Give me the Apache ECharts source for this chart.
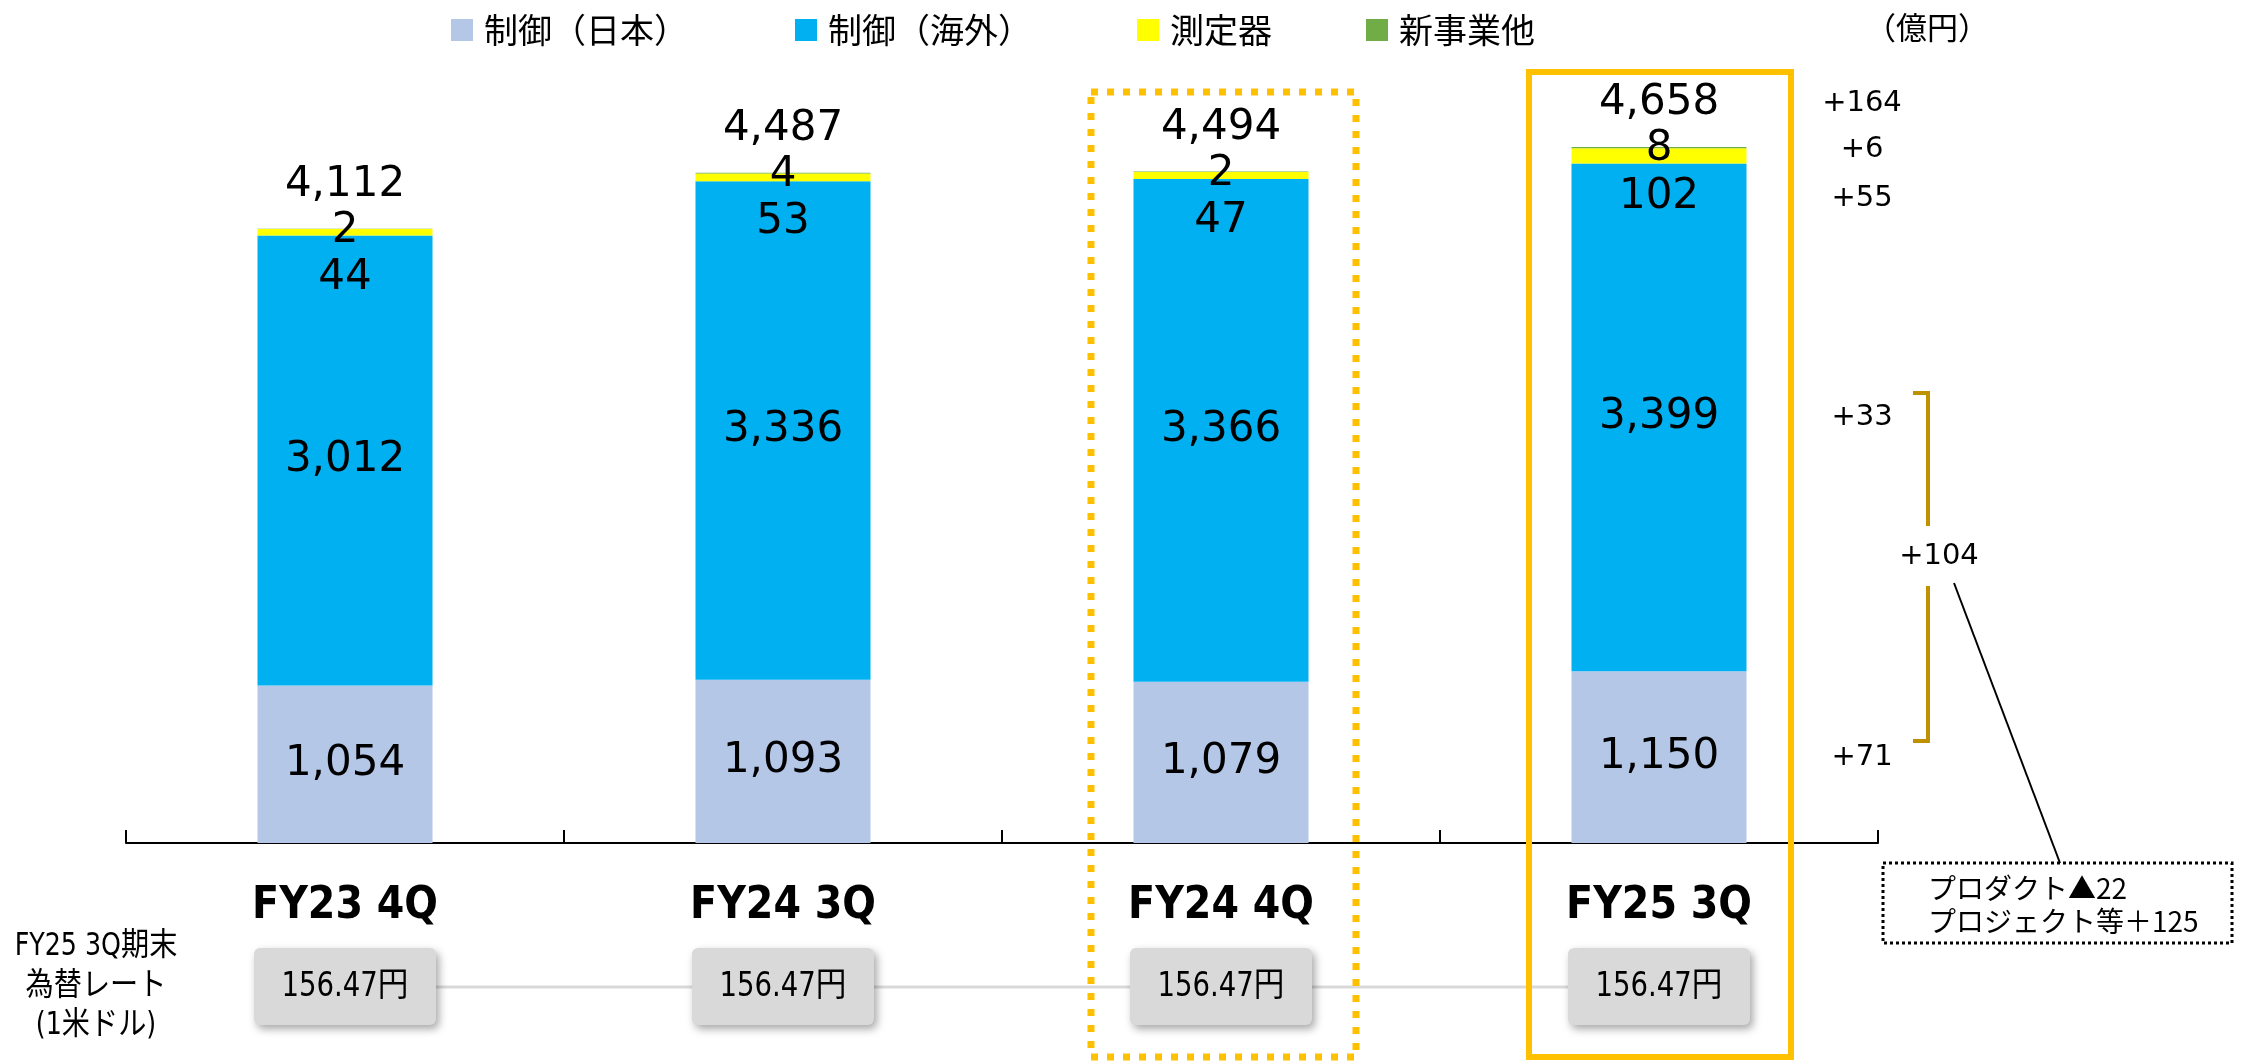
<!DOCTYPE html>
<html>
<head>
<meta charset="utf-8">
<script src="https://cdn.jsdelivr.net/npm/echarts@6.0.0/dist/echarts.min.js"></script>
<style>
html,body{margin:0;padding:0;background:#fff}
#chart{width:2243px;height:1061px}
</style>
</head>
<body>
<div id="chart"></div>
<script>
// 受注残 / 億円
const categories = ['FY23 4Q', 'FY24 3Q', 'FY24 4Q', 'FY25 3Q']
const seriesNames = ['制御（日本）', '制御（海外）', '測定器', '新事業他']
const ctrlJapan = [1054, 1093, 1079, 1150]
const ctrlOverseas = [3012, 3336, 3366, 3399]
const instruments = [44, 53, 47, 102]
const newBiz = [2, 4, 2, 8]
const totals = [4112, 4487, 4494, 4658]
const fxRates = [156.47, 156.47, 156.47, 156.47]
const fxTitle = ['FY25 3Q期末', '為替レート', '(1米ドル)']
const projectNote = ['プロダクト▲22', 'プロジェクト等＋125']

const colors = ['#B4C7E7', '#00B0F0', '#FFFF00', '#70AD47']
const numFont = 'DejaVu Sans'
const jpFont = '"Noto Sans CJK JP"'
const narrowFont = '"DejaVu Sans Condensed", "Noto Sans CJK JP"'

const fmt = v => Number(v).toLocaleString('en-US')

let chart = echarts.init(document.getElementById('chart'))

const legendLeft = [446, 790, 1132, 1361]
let legends = seriesNames.map((n, i) => ({
    data: [n],
    left: legendLeft[i],
    top: 8,
    icon: 'rect',
    itemWidth: 22,
    itemHeight: 22,
    selectedMode: false,
    textStyle: {fontSize: 34, fontFamily: jpFont, color: '#000', padding: [0, 0, 0, 6]}
}))

const baseLabel = {
    show: true,
    color: '#000',
    opacity: 1,
    fontSize: 42,
    fontFamily: numFont,
    textBorderWidth: 0,
    formatter: p => fmt(p.value)
}

let option = {
    animation: false,
    backgroundColor: '#fff',
    legend: legends,
    grid: {left: 126, right: 365, top: 96, bottom: 218},
    xAxis: {
        type: 'category',
        data: categories,
        boundaryGap: true,
        axisLine: {show: true, lineStyle: {color: '#000', width: 2}},
        axisTick: {show: true, inside: true, length: 13, interval: 0, lineStyle: {color: '#000', width: 2}},
        axisLabel: {margin: 42, fontSize: 44, fontWeight: 'bold', fontFamily: narrowFont, color: '#000'}
    },
    yAxis: {type: 'value', min: 0, max: 5000, show: false},
    series: [
        {name: seriesNames[0], type: 'bar', stack: 'a', barWidth: 175, data: ctrlJapan,
            itemStyle: {color: colors[0]}, label: {...baseLabel, position: 'inside'}},
        {name: seriesNames[1], type: 'bar', stack: 'a', barWidth: 175, data: ctrlOverseas,
            itemStyle: {color: colors[1]}, label: {...baseLabel, position: 'inside'}},
        {name: seriesNames[2], type: 'bar', stack: 'a', barWidth: 175, data: instruments,
            itemStyle: {color: colors[2]},
            label: {...baseLabel, position: ['50%', 49], align: 'center', verticalAlign: 'middle'}},
        {name: seriesNames[3], type: 'bar', stack: 'a', barWidth: 175, data: newBiz,
            itemStyle: {color: colors[3]},
            label: {...baseLabel, position: ['50%', 2], align: 'center', verticalAlign: 'middle'}},
        {name: 'total', type: 'scatter', data: totals, symbolSize: 0, silent: true, z: 10,
            itemStyle: {color: '#000', opacity: 1},
            label: {...baseLabel, position: 'inside', offset: [0, -44]}}
    ]
}
chart.setOption(option)

// annotations placed through the axes
const xPix = i => chart.convertToPixel({xAxisIndex: 0}, categories[i])
const yPix = v => chart.convertToPixel({yAxisIndex: 0}, v)
const last = 3, prev = 2
const lastTop = ctrlJapan[last] + ctrlOverseas[last] + instruments[last] + newBiz[last]
const sign = v => (v >= 0 ? '+' : '▲') + Math.abs(v)

let g = []
const text = (x, y, t, size, family, extra) => ({
    type: 'text', x: x, y: y, z: 120,
    style: Object.assign({text: t, fill: '#000', fontSize: size, fontFamily: family, align: 'center', verticalAlign: 'middle'}, extra || {})
})

// deltas on the right
const dx = 1862
const dJapan = ctrlJapan[last] - ctrlJapan[prev]
const dOverseas = ctrlOverseas[last] - ctrlOverseas[prev]
g.push(text(dx, yPix(totals[last]) - 44, sign(totals[last] - totals[prev]), 29, numFont))
g.push(text(dx, yPix(lastTop) + 3, sign(newBiz[last] - newBiz[prev]), 29, numFont))
g.push(text(dx, yPix(lastTop) + 52, sign(instruments[last] - instruments[prev]), 29, numFont))
g.push(text(dx, yPix(ctrlJapan[last] + ctrlOverseas[last] / 2), sign(dOverseas), 29, numFont))
g.push(text(dx, yPix(ctrlJapan[last] / 2), sign(dJapan), 29, numFont))

// bracket + 104
g.push({type: 'polyline', z: 110, shape: {points: [[1913, 393], [1928, 393], [1928, 526]]}, style: {stroke: '#BF9000', lineWidth: 4, fill: null}})
g.push({type: 'polyline', z: 110, shape: {points: [[1928, 586], [1928, 741], [1913, 741]]}, style: {stroke: '#BF9000', lineWidth: 4, fill: null}})
g.push(text(1939, 556, sign(dJapan + dOverseas), 29, numFont))

// callout
g.push({type: 'line', z: 110, shape: {x1: 1954, y1: 583, x2: 2060, y2: 863}, style: {stroke: '#000', lineWidth: 2}})
g.push({type: 'rect', z: 110, shape: {x: 1883, y: 863, width: 349, height: 80}, style: {fill: '#fff', stroke: '#000', lineWidth: 3, lineDash: [3, 3]}})
g.push(text(1928, 888, projectNote[0], 28, jpFont, {align: 'left'}))
g.push(text(1928, 921, projectNote[1], 28, jpFont, {align: 'left'}))

// unit
g.push(text(1927, 27, '（億円）', 31, jpFont))

// highlight boxes
g.push({type: 'rect', z: 105, shape: {x: xPix(2) + 2 - 132, y: 92, width: 265, height: 965},
    style: {fill: null, stroke: '#FFC000', lineWidth: 7, lineDash: [7, 9]}})
g.push({type: 'rect', z: 105, shape: {x: xPix(3) + 1 - 131, y: 72, width: 262, height: 985},
    style: {fill: null, stroke: '#FFC000', lineWidth: 6}})

// fx rate row
const rateY = 987
g.push({type: 'line', z: 100, shape: {x1: xPix(0), y1: rateY, x2: xPix(3), y2: rateY}, style: {stroke: '#D9D9D9', lineWidth: 3}})
fxRates.forEach((r, i) => {
    g.push({type: 'rect', z: 101, shape: {x: xPix(i) - 91, y: rateY - 39, width: 182, height: 77, r: 6},
        style: {fill: '#D9D9D9', shadowBlur: 8, shadowOffsetX: 3, shadowOffsetY: 4, shadowColor: 'rgba(0,0,0,0.35)'}})
    g.push(Object.assign(text(xPix(i), rateY, r.toFixed(2) + '円', 34, narrowFont), {scaleX: 0.9}))
})
const fxY = [947, 987, 1026]
fxTitle.forEach((t, i) => g.push(Object.assign(text(96, fxY[i], t, 32, narrowFont), {scaleX: 0.88})))

chart.setOption({graphic: g})
</script>
</body>
</html>
